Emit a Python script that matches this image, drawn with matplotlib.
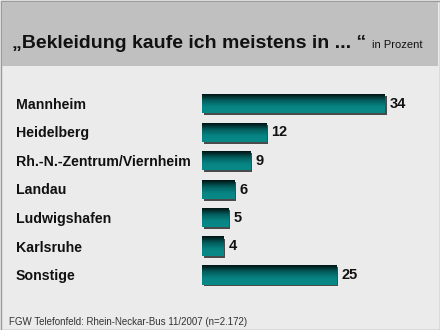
import numpy as np
import matplotlib.pyplot as plt
from matplotlib.colors import LinearSegmentedColormap
from matplotlib.patches import Rectangle

categories = ["Mannheim", "Heidelberg", "Rh.-N.-Zentrum/Viernheim", "Landau",
              "Ludwigshafen", "Karlsruhe", "Sonstige"]
values = [34, 12, 9, 6, 5, 4, 25]
title = "\u201eBekleidung kaufe ich meistens in ... \u201c"
unit = "in Prozent"
source = "FGW Telefonfeld: Rhein-Neckar-Bus 11/2007 (n=2.172)"

W, H = 440, 330
plt.rcParams['font.family'] = ['Liberation Sans', 'DejaVu Sans']

fig = plt.figure(figsize=(W / 100, H / 100), dpi=100, facecolor='#ebebeb')

# background panel in pixel coordinates
bg = fig.add_axes([0, 0, 1, 1])
bg.set_xlim(0, W)
bg.set_ylim(H, 0)
bg.axis('off')
bg.add_patch(Rectangle((0.5, 0.5), W - 1, H - 1, facecolor='#ebebeb', edgecolor='#9a9a9a', lw=1))
bg.add_patch(Rectangle((2, 2), W - 4, 64, facecolor='#c0c0c0', edgecolor='none'))
bg.text(12, 48, title, fontsize=14, fontweight='bold', color='#111111', va='baseline')
bg.text(372, 48, unit, fontsize=8, color='#111111', va='baseline')
bg.text(9, 325, source, fontsize=7, color='#333333', va='baseline')

# bar area
left_px, right_px = 202, 385
top_c, bot_c = 104, 275
step = (bot_c - top_c) / (len(values) - 1)
ax = fig.add_axes([left_px / W, 1 - (bot_c + step / 2) / H,
                   (right_px - left_px) / W, (bot_c - top_c + step) / H])
ax.set_xlim(0, max(values))
ax.set_ylim(len(values) - 0.5, -0.5)
ax.axis('off')

cmap = LinearSegmentedColormap.from_list('teal', ['#011212', '#045d5d', '#078483', '#088a88'])
grad = np.linspace(0, 1, 64).reshape(-1, 1)
px_x = max(values) / (right_px - left_px)
px_y = 1 / step
bh = 19 * px_y

for i, (cat, v) in enumerate(zip(categories, values)):
    y0 = i - bh / 2
    # shadow
    ax.add_patch(Rectangle((1.5 * px_x, y0 + 1.5 * px_y), v, bh, facecolor='#4a4a4a',
                           edgecolor='none', clip_on=False, zorder=1))
    ax.imshow(grad, cmap=cmap, aspect='auto', extent=[0, v, y0 + bh, y0],
              zorder=2, clip_on=False)
    ax.text(v + 5 * px_x, i, str(v), fontsize=10.5, fontweight='bold',
            va='center', ha='left', color='#111111')
    bg.text(16, top_c + i * step + 1, cat, fontsize=10.2, fontweight='bold',
            va='center', ha='left', color='#111111')

ax.set_xlim(0, max(values))
ax.set_ylim(len(values) - 0.5, -0.5)

fig.savefig('out.png', dpi=100, facecolor=fig.get_facecolor())
